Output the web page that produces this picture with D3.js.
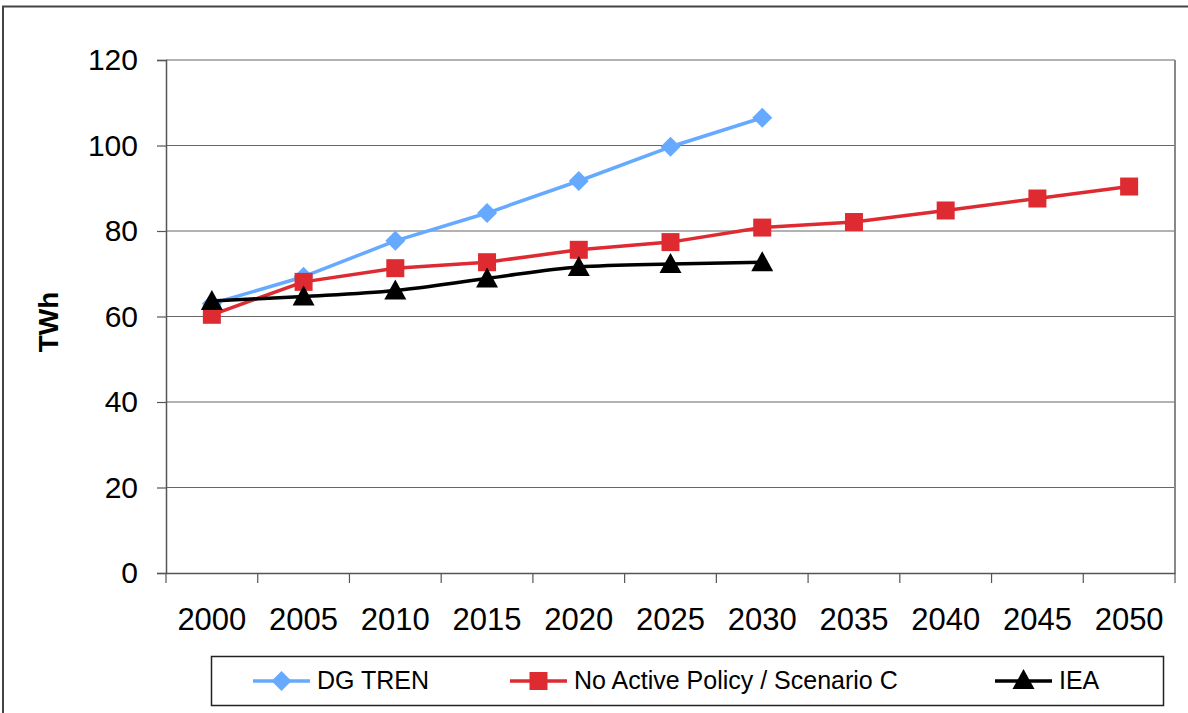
<!DOCTYPE html>
<html>
<head>
<meta charset="utf-8">
<script src="https://cdn.jsdelivr.net/npm/d3@7"></script>
<style>
  html, body { margin: 0; padding: 0; background: #fff; }
  svg { display: block; }
  text { font-family: "Liberation Sans", Arial, sans-serif; fill: #000; }
</style>
</head>
<body>
<svg id="chart" width="1188" height="713"></svg>
<script>
// Electricity demand projections (TWh)
const years = ["2000", "2005", "2010", "2015", "2020", "2025", "2030", "2035", "2040", "2045", "2050"];
const dgTren = [63, 69.3, 77.7, 84.2, 91.7, 99.7, 106.5];
const noActivePolicy = [60.4, 68.1, 71.3, 72.7, 75.6, 77.4, 80.8, 82.1, 84.8, 87.6, 90.4];
const iea = [63.6, 64.7, 66.1, 68.9, 71.6, 72.3, 72.7];
const yTicks = [0, 20, 40, 60, 80, 100, 120];

const series = [
  { name: "DG TREN", values: dgTren, color: "#66AAFF", marker: "diamond", curve: d3.curveLinear },
  { name: "No Active Policy / Scenario C", values: noActivePolicy, color: "#DD2B31", marker: "square", curve: d3.curveLinear },
  { name: "IEA", values: iea, color: "#000000", marker: "triangle", curve: d3.curveMonotoneX }
];

const svg = d3.select("#chart");

// outer frame of the chart
svg.append("rect")
  .attr("x", 3).attr("y", 6.5)
  .attr("width", 1200).attr("height", 720)
  .attr("fill", "none").attr("stroke", "#444").attr("stroke-width", 2);

const plot = { left: 166, right: 1175, top: 60, bottom: 573 };

const x = d3.scaleBand().domain(years).range([plot.left, plot.right]).padding(0);
const y = d3.scaleLinear().domain([0, 120]).range([plot.bottom, plot.top]);

// horizontal gridlines
svg.append("g")
  .selectAll("line")
  .data(yTicks.filter(t => t > 0))
  .join("line")
  .attr("x1", plot.left).attr("x2", plot.right)
  .attr("y1", d => y(d)).attr("y2", d => y(d))
  .attr("stroke", "#666").attr("stroke-width", 1.2);

// plot area right border
svg.append("line")
  .attr("x1", plot.right).attr("x2", plot.right)
  .attr("y1", plot.top).attr("y2", plot.bottom)
  .attr("stroke", "#888").attr("stroke-width", 2);

// y axis
const yAxis = svg.append("g")
  .attr("transform", `translate(${plot.left},0)`)
  .call(d3.axisLeft(y).tickValues(yTicks).tickSize(9).tickPadding(19));
yAxis.select(".domain").attr("stroke", "#555").attr("stroke-width", 1.5);
yAxis.selectAll(".tick line").attr("stroke", "#555").attr("stroke-width", 1.2);
yAxis.selectAll(".tick text")
  .style("font-family", "'Liberation Sans', Arial, sans-serif")
  .style("font-size", "30px").attr("fill", "#000");

// x axis: ticks between categories
const xAxis = svg.append("g")
  .attr("transform", `translate(0,${plot.bottom})`)
  .call(d3.axisBottom(x).tickSize(0).tickPadding(35));
xAxis.select(".domain").attr("stroke", "#555").attr("stroke-width", 1.5);
xAxis.selectAll(".tick text")
  .style("font-family", "'Liberation Sans', Arial, sans-serif")
  .style("font-size", "31px").attr("fill", "#000");
const boundaries = years.map(yr => x(yr)).concat([x(years[years.length - 1]) + x.bandwidth()]);
xAxis.append("g").selectAll("line")
  .data(boundaries)
  .join("line")
  .attr("x1", d => d).attr("x2", d => d)
  .attr("y1", 0).attr("y2", 10)
  .attr("stroke", "#555").attr("stroke-width", 1.2);

// y axis title
svg.append("text")
  .attr("transform", `translate(58,322) rotate(-90)`)
  .attr("text-anchor", "middle")
  .style("font-size", "28px").style("font-weight", "bold")
  .text("TWh");

// marker shapes
function drawMarker(g, type, color, cx, cy) {
  if (type === "diamond") {
    g.append("path")
      .attr("d", `M${cx},${cy - 10}L${cx + 10},${cy}L${cx},${cy + 10}L${cx - 10},${cy}Z`)
      .attr("fill", color);
  } else if (type === "square") {
    g.append("rect")
      .attr("x", cx - 9).attr("y", cy - 9)
      .attr("width", 18).attr("height", 18)
      .attr("fill", color);
  } else {
    g.append("path")
      .attr("d", `M${cx},${cy - 11}L${cx + 11},${cy + 9}L${cx - 11},${cy + 9}Z`)
      .attr("fill", color);
  }
}

const cxOf = i => x(years[i]) + x.bandwidth() / 2;

series.forEach(s => {
  const g = svg.append("g");
  const line = d3.line()
    .x((d, i) => cxOf(i))
    .y(d => y(d))
    .curve(s.curve);
  g.append("path")
    .attr("d", line(s.values))
    .attr("fill", "none")
    .attr("stroke", s.color)
    .attr("stroke-width", 3.5)
    .attr("stroke-linejoin", "round");
  s.values.forEach((v, i) => drawMarker(g, s.marker, s.color, cxOf(i), y(v)));
});

// legend
const legend = svg.append("g");
legend.append("rect")
  .attr("x", 211.5).attr("y", 656.5)
  .attr("width", 952).attr("height", 49)
  .attr("fill", "#fff").attr("stroke", "#222").attr("stroke-width", 1.5);

const legendPos = [253, 510, 995];
series.forEach((s, i) => {
  const lx = legendPos[i];
  const ly = 681;
  legend.append("line")
    .attr("x1", lx).attr("x2", lx + 57)
    .attr("y1", ly).attr("y2", ly)
    .attr("stroke", s.color).attr("stroke-width", 3.5);
  drawMarker(legend, s.marker, s.color, lx + 28.5, s.marker === "triangle" ? ly - 1 : ly);
  legend.append("text")
    .attr("x", lx + 64).attr("y", ly + 8)
    .style("font-size", "25px")
    .text(s.name);
});
</script>
</body>
</html>
